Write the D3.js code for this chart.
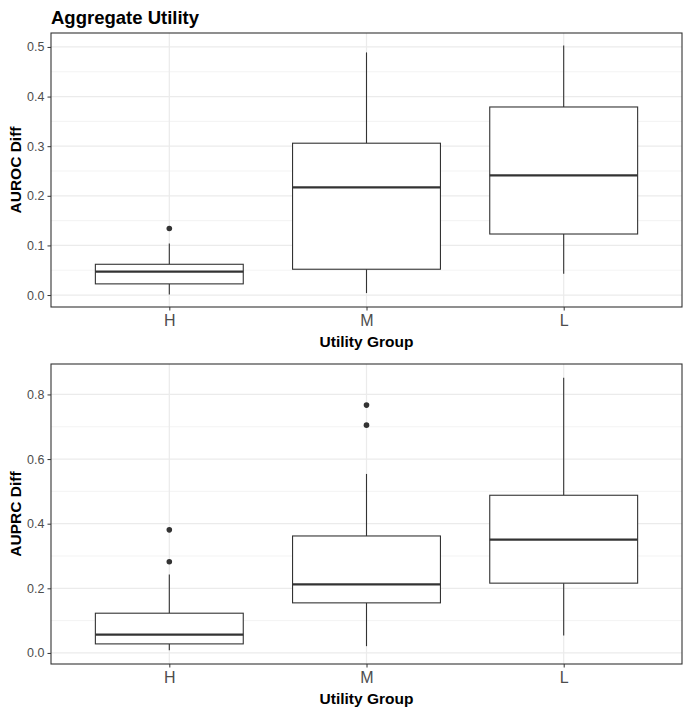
<!DOCTYPE html>
<html>
<head>
<meta charset="utf-8">
<script src="https://cdn.jsdelivr.net/npm/d3@7"></script>
<style>
  body { margin: 0; background: #fff; }
  svg { display: block; font-family: "Liberation Sans", Arial, sans-serif; }
</style>
</head>
<body>
<svg id="chart" width="690" height="714"></svg>
<script>
// groups on the x axis
var groups = ['H', 'M', 'L'];

// AUROC diff box stats, one per group
var aurocLow     = [0.001, 0.004, 0.043];
var aurocQ1      = [0.0225, 0.052, 0.123];
var aurocMedian  = [0.047, 0.217, 0.241];
var aurocQ3      = [0.062, 0.306, 0.379];
var aurocHigh    = [0.104, 0.489, 0.503];
var aurocOutliers = [[0.134], [], []];
var aurocTicks   = [0, 0.1, 0.2, 0.3, 0.4, 0.5];

// AUPRC diff box stats
var auprcLow     = [0.008, 0.021, 0.054];
var auprcQ1      = [0.028, 0.155, 0.216];
var auprcMedian  = [0.057, 0.212, 0.351];
var auprcQ3      = [0.123, 0.362, 0.488];
var auprcHigh    = [0.243, 0.554, 0.852];
var auprcOutliers = [[0.282, 0.381], [0.705, 0.767], []];
var auprcTicks   = [0, 0.2, 0.4, 0.6, 0.8];

var svg = d3.select('#chart');

svg.append('text')
	.attr('x', 51)
	.attr('y', 24)
	.attr('font-size', '18.5px')
	.attr('font-weight', 'bold')
	.attr('fill', '#000')
	.text('Aggregate Utility');

function drawPanel(opts){
	var left = 51, right = 682;
	var top = opts.top, bottom = opts.bottom;

	var rows = groups.map(function(g, i){
		return {group: g, low: opts.low[i], q1: opts.q1[i], median: opts.median[i],
			q3: opts.q3[i], high: opts.high[i], outliers: opts.outliers[i]};
	});

	var allVals = [];
	rows.forEach(function(d){
		allVals.push(d.low, d.high);
		allVals = allVals.concat(d.outliers);
	});
	var lo = d3.min(allVals), hi = d3.max(allVals);
	var pad = (hi - lo) * 0.05;

	var x = d3.scalePoint()
		.domain(groups)
		.range([left, right])
		.padding(0.6);
	var y = d3.scaleLinear()
		.domain([lo - pad, hi + pad])
		.range([bottom, top]);

	var boxW = x.step() * 0.75;
	var g = svg.append('g');

	// minor grid halfway between major ticks
	var ticks = opts.ticks;
	var stepT = ticks[1] - ticks[0];
	var minor = [];
	for (var i = 0; i < ticks.length; i++){
		var m = ticks[i] + stepT / 2;
		if (m < hi + pad) minor.push(m);
	}

	g.selectAll('.minor')
		.data(minor)
		.enter()
		.append('line')
		.attr('x1', left).attr('x2', right)
		.attr('y1', function(d){ return y(d); })
		.attr('y2', function(d){ return y(d); })
		.attr('stroke', '#EBEBEB')
		.attr('stroke-width', 0.6);

	g.selectAll('.major')
		.data(ticks)
		.enter()
		.append('line')
		.attr('x1', left).attr('x2', right)
		.attr('y1', function(d){ return y(d); })
		.attr('y2', function(d){ return y(d); })
		.attr('stroke', '#EBEBEB')
		.attr('stroke-width', 1.2);

	g.selectAll('.vgrid')
		.data(groups)
		.enter()
		.append('line')
		.attr('x1', function(d){ return x(d); })
		.attr('x2', function(d){ return x(d); })
		.attr('y1', top).attr('y2', bottom)
		.attr('stroke', '#EBEBEB')
		.attr('stroke-width', 1.2);

	var box = g.selectAll('.box')
		.data(rows)
		.enter()
		.append('g');

	box.append('line')
		.attr('x1', function(d){ return x(d.group); })
		.attr('x2', function(d){ return x(d.group); })
		.attr('y1', function(d){ return y(d.q3); })
		.attr('y2', function(d){ return y(d.high); })
		.attr('stroke', '#333').attr('stroke-width', 1.1);

	box.append('line')
		.attr('x1', function(d){ return x(d.group); })
		.attr('x2', function(d){ return x(d.group); })
		.attr('y1', function(d){ return y(d.q1); })
		.attr('y2', function(d){ return y(d.low); })
		.attr('stroke', '#333').attr('stroke-width', 1.1);

	box.append('rect')
		.attr('x', function(d){ return x(d.group) - boxW / 2; })
		.attr('y', function(d){ return y(d.q3); })
		.attr('width', boxW)
		.attr('height', function(d){ return y(d.q1) - y(d.q3); })
		.attr('fill', '#fff')
		.attr('stroke', '#333').attr('stroke-width', 1.1);

	box.append('line')
		.attr('x1', function(d){ return x(d.group) - boxW / 2; })
		.attr('x2', function(d){ return x(d.group) + boxW / 2; })
		.attr('y1', function(d){ return y(d.median); })
		.attr('y2', function(d){ return y(d.median); })
		.attr('stroke', '#333').attr('stroke-width', 2.2);

	box.selectAll('circle')
		.data(function(d){ return d.outliers.map(function(v){ return {group: d.group, v: v}; }); })
		.enter()
		.append('circle')
		.attr('cx', function(d){ return x(d.group); })
		.attr('cy', function(d){ return y(d.v); })
		.attr('r', 2.8)
		.attr('fill', '#333');

	// panel border
	g.append('rect')
		.attr('x', left).attr('y', top)
		.attr('width', right - left).attr('height', bottom - top)
		.attr('fill', 'none')
		.attr('stroke', '#333').attr('stroke-width', 1.1);

	var yAxis = g.append('g')
		.attr('transform', 'translate(' + left + ',0)')
		.call(d3.axisLeft(y).tickValues(ticks).tickFormat(d3.format('.1f')).tickSize(3.5).tickPadding(3));
	yAxis.select('.domain').remove();
	yAxis.selectAll('line').attr('stroke', '#333');
	yAxis.selectAll('text')
		.attr('fill', '#4D4D4D')
		.attr('font-size', '12.5px')
		.attr('font-family', '"Liberation Sans", Arial, sans-serif');

	var xAxis = g.append('g')
		.attr('transform', 'translate(0,' + bottom + ')')
		.call(d3.axisBottom(x).tickSize(3.5).tickPadding(4));
	xAxis.select('.domain').remove();
	xAxis.selectAll('line').attr('stroke', '#333');
	xAxis.selectAll('text')
		.attr('fill', '#4D4D4D')
		.attr('font-size', '16px')
		.attr('font-family', '"Liberation Sans", Arial, sans-serif');

	g.append('text')
		.attr('x', (left + right) / 2)
		.attr('y', bottom + 40)
		.attr('text-anchor', 'middle')
		.attr('font-size', '15.5px')
		.attr('font-weight', 'bold')
		.text('Utility Group');

	g.append('text')
		.attr('transform', 'translate(21,' + ((top + bottom) / 2) + ') rotate(-90)')
		.attr('text-anchor', 'middle')
		.attr('font-size', '15.5px')
		.attr('font-weight', 'bold')
		.text(opts.label);
}

drawPanel({top: 33, bottom: 307, label: 'AUROC Diff', ticks: aurocTicks,
	low: aurocLow, q1: aurocQ1, median: aurocMedian, q3: aurocQ3, high: aurocHigh, outliers: aurocOutliers});

drawPanel({top: 364, bottom: 664, label: 'AUPRC Diff', ticks: auprcTicks,
	low: auprcLow, q1: auprcQ1, median: auprcMedian, q3: auprcQ3, high: auprcHigh, outliers: auprcOutliers});
</script>
</body>
</html>
